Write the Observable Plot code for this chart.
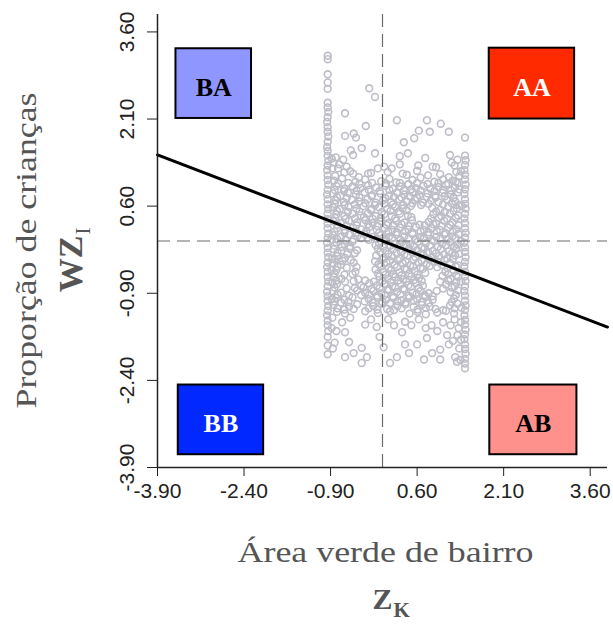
<!DOCTYPE html>
<html><head><meta charset="utf-8">
<script src="https://cdn.jsdelivr.net/npm/d3@7"></script>
<script src="https://cdn.jsdelivr.net/npm/@observablehq/plot@0.6"></script>
<style>html,body{margin:0;padding:0;background:#fff}svg{display:block}</style>
</head><body><div id="chart"></div>
<script>
// ---- data ----
const xTicks = [-3.9, -2.4, -0.9, 0.6, 2.1, 3.6];
const yTicks = [-3.9, -2.4, -0.9, 0.6, 2.1, 3.6];
const xTitulo = "Área verde de bairro";
const yTitulo = "Proporção de crianças";
const regressao = {inclinacao: -0.38, intercepto: 0.0};
const quadrantes = ["BA", "AA", "BB", "AB"];

const colunaEsquerda = [
[-0.95,3.19],[-0.95,3.13],[-0.95,2.87],[-0.95,2.73],[-0.95,2.62],
[-0.95,2.38],[-0.95,2.30],[-0.94,2.22],[-0.95,2.13],[-0.96,2.05],[-0.95,1.96],[-0.95,1.88],[-0.94,1.80],[-0.95,1.71],[-0.96,1.62],[-0.95,1.55],[-0.95,1.47],[-0.94,1.38],[-0.95,1.30],[-0.96,1.22],[-0.95,1.13],[-0.95,1.05],[-0.94,0.97],[-0.95,0.88],[-0.96,0.80],[-0.95,0.72],[-0.95,0.63],[-0.94,0.55],[-0.95,0.47],[-0.96,0.38],[-0.95,0.30],[-0.95,0.22],[-0.94,0.13],[-0.95,0.05],[-0.96,-0.03],[-0.95,-0.12],[-0.95,-0.20],[-0.94,-0.28],[-0.95,-0.37],[-0.96,-0.45],[-0.95,-0.53],[-0.95,-0.62],[-0.94,-0.70],[-0.95,-0.78],[-0.96,-0.87],[-0.95,-0.95],[-0.95,-1.03],[-0.94,-1.12],[-0.95,-1.20],[-0.96,-1.28],[-0.95,-1.37],[-0.95,-1.45],[-0.94,-1.55],[-0.95,-1.65],[-0.95,-1.80],[-0.95,-1.95],
[-0.88,1.42],[-0.87,1.25],[-0.88,0.02],[-0.87,-0.30],[-0.88,-0.50],[-0.87,-0.72],[-0.88,-1.00],[-0.87,-1.32],[-0.88,-1.50],[-0.86,-1.85]
];
const colunaDireita = [
[1.43,1.78],[1.43,1.47],[1.44,1.39],[1.43,1.31],[1.42,1.22],[1.43,1.14],[1.43,1.06],[1.44,0.97],[1.43,0.89],[1.42,0.81],[1.43,0.72],[1.43,0.64],[1.44,0.56],[1.43,0.47],[1.42,0.39],[1.43,0.31],[1.43,0.22],[1.44,0.14],[1.43,0.06],[1.42,-0.03],[1.43,-0.11],[1.43,-0.19],[1.44,-0.28],[1.43,-0.36],[1.42,-0.44],[1.43,-0.53],[1.43,-0.61],[1.44,-0.69],[1.43,-0.78],[1.42,-0.86],[1.43,-0.94],[1.43,-1.03],[1.44,-1.11],[1.43,-1.19],[1.42,-1.28],[1.43,-1.36],[1.43,-1.44],[1.44,-1.53],[1.43,-1.61],[1.42,-1.69],[1.43,-1.78],[1.43,-1.86],[1.44,-1.94],[1.43,-2.03],[1.43,-2.11],[1.43,-2.19],
[1.36,1.20],[1.37,0.60],[1.36,0.00],[1.36,-0.70],[1.37,-1.15],[1.36,-1.40],[1.36,-1.70],[1.35,-2.05]
];
const dispersosAcima = [
[-0.23,2.63],[-0.13,2.48],[-0.65,2.20],[0.25,2.08],[0.77,2.08],[1.01,2.02],[-0.29,1.98],[0.63,1.90],[0.82,1.88],[1.15,1.88],[-0.65,1.81],[-0.50,1.85],[-0.46,1.78],[0.55,1.77],[0.37,1.70],[-0.36,1.60],[-0.55,1.56],[-0.51,1.48],[-0.13,1.51],[0.30,1.46],[0.44,1.51],[1.17,1.48],[-0.81,1.44],[0.74,1.43],[0.62,1.30],[0.87,1.28],[0.16,1.25],[0.30,1.32],[0.03,1.28],[-0.08,1.25],[0.42,1.14],[0.79,1.13],[0.93,1.27],[1.15,1.10],[-0.66,1.18],[-0.51,1.16],[-0.25,1.16],[-0.41,1.10],[-0.77,1.25],
[-0.56,1.20],[-0.20,1.17],[0.09,1.19],[0.35,1.16],[0.60,1.21],[1.00,1.15],[1.28,1.19],
[-0.85,1.35],[-0.75,1.32],[-0.68,1.40],[-0.62,1.28],[-0.82,1.12],[1.30,1.40],[1.25,1.30],[1.33,1.12],[1.20,1.35]
];
const nucleo = [
[-0.84,1.04],[-0.70,1.08],[-0.47,1.02],[-0.30,1.06],[-0.02,1.03],[0.12,1.07],[0.24,1.01],[0.52,1.05],[0.66,1.09],[0.90,1.02],[1.05,1.06],[1.22,1.04],[1.30,1.00],
[-0.80,0.95],[-0.66,0.90],[-0.52,0.94],[-0.38,0.91],[-0.25,0.96],[-0.11,0.92],[0.05,0.95],[0.18,0.90],[0.31,0.94],[0.44,0.97],[0.58,0.91],[0.71,0.95],[0.83,0.90],[0.97,0.93],[1.10,0.97],[1.25,0.92],
[-0.86,0.82],[-0.73,0.78],[-0.60,0.83],[-0.46,0.80],[-0.31,0.84],[-0.18,0.79],[-0.04,0.82],[0.11,0.78],[0.25,0.83],[0.38,0.80],[0.52,0.84],[0.64,0.79],[0.78,0.82],[0.91,0.78],[1.04,0.83],[1.18,0.80],[1.31,0.84],
[-0.81,0.70],[-0.67,0.67],[-0.53,0.71],[-0.40,0.68],[-0.26,0.72],[-0.12,0.66],[0.01,0.70],[0.15,0.67],[0.29,0.72],[0.42,0.68],[0.56,0.71],[0.70,0.66],[0.84,0.70],[0.97,0.67],[1.12,0.71],[1.26,0.68],
[-0.86,0.58],[-0.74,0.55],[-0.59,0.59],[-0.45,0.56],[-0.33,0.60],[-0.19,0.55],[-0.06,0.58],[0.08,0.55],[0.22,0.59],[0.35,0.56],[0.49,0.60],[0.86,0.57],[1.00,0.54],[1.14,0.59],[1.29,0.56],
[-0.80,0.46],[-0.66,0.43],[-0.52,0.47],[-0.38,0.44],[-0.25,0.48],[-0.12,0.43],[0.03,0.46],[0.16,0.43],[0.30,0.47],[0.44,0.44],[0.88,0.46],[1.02,0.43],[1.17,0.47],[1.31,0.44],
[-0.85,0.34],[-0.72,0.31],[-0.58,0.35],[-0.44,0.32],[-0.30,0.36],[-0.17,0.31],[-0.03,0.34],[0.10,0.31],[0.24,0.35],[0.38,0.32],[0.51,0.36],[0.80,0.33],[0.93,0.30],[1.07,0.35],[1.21,0.32],
[-0.79,0.22],[-0.65,0.19],[-0.51,0.23],[-0.37,0.20],[-0.23,0.24],[-0.10,0.19],[0.04,0.22],[0.17,0.19],[0.31,0.23],[0.45,0.20],[0.58,0.24],[0.72,0.19],[0.86,0.22],[1.00,0.19],[1.14,0.23],[1.28,0.20],
[-0.86,0.10],[-0.72,0.07],[-0.58,0.11],[-0.44,0.08],[-0.31,0.12],[-0.17,0.07],[-0.03,0.10],[0.11,0.07],[0.24,0.11],[0.38,0.08],[0.52,0.12],[0.65,0.07],[0.79,0.10],[0.93,0.07],[1.07,0.11],[1.21,0.08],[1.32,0.12],
[-0.80,-0.02],[-0.66,-0.05],[-0.52,-0.01],[-0.06,-0.04],[0.07,0.00],[0.20,-0.05],[0.34,-0.02],[0.48,-0.06],[0.61,-0.01],[0.75,-0.04],[0.89,0.00],[1.03,-0.05],[1.17,-0.02],[1.30,-0.06],
[-0.85,-0.14],[-0.71,-0.17],[-0.57,-0.13],[-0.44,-0.16],[-0.08,-0.13],[0.05,-0.17],[0.19,-0.14],[0.32,-0.18],[0.46,-0.13],[0.60,-0.16],[0.73,-0.12],[0.87,-0.17],[1.01,-0.14],[1.15,-0.18],[1.28,-0.13],
[-0.79,-0.26],[-0.65,-0.29],[-0.11,-0.25],[0.02,-0.29],[0.16,-0.26],[0.30,-0.30],[0.43,-0.25],[0.57,-0.28],[0.71,-0.24],[0.84,-0.29],[0.98,-0.26],[1.12,-0.30],[1.26,-0.25],
[-0.86,-0.38],[-0.72,-0.41],[-0.50,-0.37],[-0.07,-0.40],[0.07,-0.37],[0.21,-0.41],[0.35,-0.38],[0.48,-0.42],[0.62,-0.37],[0.76,-0.40],[0.89,-0.36],[1.03,-0.41],[1.17,-0.38],[1.31,-0.42],
[-0.80,-0.50],[-0.47,-0.53],[-0.12,-0.49],[0.01,-0.53],[0.15,-0.50],[0.29,-0.54],[0.42,-0.49],[0.56,-0.52],[0.70,-0.48],[1.09,-0.53],[1.23,-0.50],
[-0.85,-0.62],[-0.71,-0.65],[-0.42,-0.66],[-0.05,-0.61],[0.09,-0.65],[0.22,-0.62],[0.36,-0.66],[0.50,-0.61],[0.63,-0.64],[1.04,-0.60],[1.18,-0.65],[1.31,-0.62],
[-0.79,-0.74],[-0.37,-0.77],[-0.23,-0.73],[-0.10,-0.77],[0.04,-0.74],[0.17,-0.78],[0.31,-0.73],[0.45,-0.76],[0.58,-0.72],[0.70,-0.77],[1.10,-0.75],[1.25,-0.78],
[-0.86,-0.86],[-0.72,-0.89],[-0.44,-0.85],[-0.30,-0.89],[-0.16,-0.86],[-0.02,-0.90],[0.11,-0.85],[0.25,-0.88],[0.38,-0.84],[0.52,-0.89],[0.66,-0.86],[0.80,-0.90],[0.94,-0.86],[1.18,-0.88],[1.31,-0.85],
[-0.80,-0.98],[-0.66,-1.01],[-0.52,-0.97],[-0.24,-1.00],[-0.09,-0.97],[0.06,-1.01],[0.19,-0.98],[0.33,-1.02],[0.47,-0.97],[0.60,-1.00],[0.74,-0.96],[0.87,-1.01],[1.24,-0.99],
[-0.85,-1.10],[-0.58,-1.13],[-0.44,-1.09],[-0.16,-1.12],[-0.02,-1.08],[0.26,-1.12],[0.40,-1.09],[0.54,-1.13],[0.68,-1.10],[0.82,-1.13],[1.17,-1.11],[1.30,-1.08],
[-0.79,-1.22],[-0.65,-1.25],[-0.30,-1.21],[-0.08,-1.24],[0.13,-1.21],[0.47,-1.25],[0.61,-1.22],[0.75,-1.26],[0.95,-1.23],[1.10,-1.20],[1.24,-1.25]
];
const nucleoIntermedio = [
[-0.77,0.99],[-0.59,1.00],[-0.40,0.98],[-0.18,1.00],[0.06,0.99],[0.30,1.00],[0.45,0.98],[0.60,1.00],[0.78,0.98],[0.97,1.00],[1.14,0.99],[1.27,1.02],
[-0.83,0.88],[-0.67,0.86],[-0.45,0.87],[-0.24,0.88],[-0.05,0.86],[0.12,0.88],[0.37,0.87],[0.50,0.89],[0.66,0.87],[0.90,0.86],[1.05,0.88],[1.19,0.87],[1.33,0.89],
[-0.79,0.76],[-0.62,0.74],[-0.40,0.75],[-0.19,0.77],[0.05,0.74],[0.20,0.76],[0.33,0.75],[0.47,0.77],[0.60,0.74],[0.77,0.76],[0.92,0.75],[1.08,0.77],[1.23,0.74],
[-0.83,0.64],[-0.66,0.62],[-0.48,0.63],[-0.30,0.65],[-0.13,0.62],[0.03,0.64],[0.18,0.63],[0.36,0.62],[0.52,0.65],[0.67,0.62],[0.80,0.64],[1.05,0.63],[1.20,0.65],[1.33,0.62],
[-0.79,0.52],[-0.60,0.50],[-0.40,0.51],[-0.20,0.53],[-0.01,0.50],[0.14,0.52],[0.28,0.51],[0.42,0.53],[0.93,0.51],[1.08,0.50],[1.23,0.52],
[-0.82,0.40],[-0.64,0.38],[-0.48,0.39],[-0.32,0.41],[-0.17,0.38],[-0.03,0.40],[0.22,0.39],[0.50,0.41],[0.84,0.39],[0.98,0.40],[1.12,0.38],[1.27,0.40],
[-0.78,0.28],[-0.62,0.26],[-0.45,0.27],[-0.25,0.29],[-0.09,0.26],[0.07,0.28],[0.18,0.27],[0.33,0.29],[0.45,0.26],[0.64,0.28],[0.73,0.27],[0.88,0.29],[1.02,0.26],[1.17,0.28],[1.32,0.27],
[-0.83,0.16],[-0.66,0.14],[-0.45,0.15],[-0.28,0.17],[-0.06,0.14],[0.10,0.16],[0.25,0.15],[0.39,0.17],[0.52,0.14],[0.66,0.16],[0.80,0.15],[0.94,0.17],[1.09,0.14],[1.22,0.16],
[-0.79,0.04],[-0.64,0.02],[-0.50,0.03],[-0.37,0.05],[-0.24,0.02],[-0.10,0.04],[0.04,0.03],[0.17,0.05],[0.31,0.02],[0.45,0.04],[0.58,0.03],[0.72,0.05],[0.86,0.02],[1.00,0.04],[1.14,0.03],[1.27,0.05],
[-0.83,-0.08],[-0.70,-0.10],[-0.56,-0.09],[-0.12,-0.07],[0.01,-0.10],[0.14,-0.08],[0.27,-0.10],[0.41,-0.07],[0.54,-0.09],[0.68,-0.11],[0.82,-0.08],[0.96,-0.10],[1.10,-0.07],[1.24,-0.09],
[-0.78,-0.20],[-0.61,-0.22],[-0.48,-0.21],[-0.04,-0.19],[0.10,-0.22],[0.24,-0.20],[0.38,-0.23],[0.52,-0.20],[0.66,-0.22],[0.79,-0.19],[0.93,-0.21],[1.07,-0.23],[1.21,-0.20],[1.33,-0.22],
[-0.83,-0.32],[-0.69,-0.34],[-0.55,-0.33],[-0.13,-0.35],[0.00,-0.32],[0.13,-0.34],[0.27,-0.33],[0.40,-0.35],[0.54,-0.32],[0.68,-0.34],[0.81,-0.32],[0.95,-0.35],[1.08,-0.33],[1.22,-0.31],
[-0.78,-0.44],[-0.62,-0.46],[-0.45,-0.45],[-0.03,-0.44],[0.11,-0.46],[0.25,-0.45],[0.39,-0.47],[0.53,-0.44],[0.66,-0.46],[0.82,-0.43],[0.95,-0.45],[1.13,-0.47],[1.27,-0.44],
[-0.83,-0.56],[-0.66,-0.58],[-0.52,-0.57],[-0.08,-0.56],[0.05,-0.58],[0.19,-0.57],[0.33,-0.59],[0.46,-0.56],[0.60,-0.58],[0.74,-0.55],[1.14,-0.57],[1.28,-0.59],
[-0.80,-0.68],[-0.65,-0.70],[-0.50,-0.69],[-0.30,-0.68],[-0.15,-0.70],[0.00,-0.69],[0.14,-0.71],[0.27,-0.68],[0.41,-0.70],[0.55,-0.67],[0.68,-0.69],[1.00,-0.70],[1.14,-0.68],[1.28,-0.71],
[-0.83,-0.80],[-0.62,-0.82],[-0.48,-0.81],[-0.33,-0.80],[-0.19,-0.82],[-0.05,-0.81],[0.09,-0.83],[0.22,-0.80],[0.36,-0.82],[0.49,-0.79],[0.63,-0.81],[1.05,-0.82],[1.20,-0.80],
[-0.78,-0.92],[-0.58,-0.94],[-0.37,-0.93],[-0.23,-0.92],[-0.09,-0.94],[0.04,-0.93],[0.18,-0.95],[0.31,-0.92],[0.45,-0.94],[0.59,-0.91],[0.73,-0.93],[0.87,-0.95],[1.27,-0.93],
[-0.83,-1.04],[-0.72,-1.06],[-0.59,-1.05],[-0.31,-1.04],[-0.17,-1.06],[0.00,-1.05],[0.13,-1.07],[0.26,-1.04],[0.40,-1.06],[0.54,-1.03],[0.68,-1.05],[0.80,-1.07],[1.20,-1.05],
[-0.78,-1.16],[-0.66,-1.18],[-0.50,-1.17],[-0.24,-1.16],[-0.09,-1.18],[0.08,-1.17],[0.20,-1.19],[0.33,-1.16],[0.61,-1.18],[0.75,-1.15],[0.92,-1.17],[1.05,-1.19],[1.25,-1.16]
];
const dispersosAbaixo = [
[-0.56,-1.32],[-0.30,-1.44],[-0.10,-1.48],[0.39,-1.39],[0.63,-1.35],[-0.65,-1.57],[-0.05,-1.65],[0.34,-1.57],[0.77,-1.67],[-0.58,-1.74],[0.60,-1.78],[0.39,-1.78],[-0.36,-1.84],[-0.50,-1.93],[-0.65,-2.00],[-0.27,-2.00],[0.02,-1.83],[0.46,-1.93],[0.25,-2.00],[0.13,-2.10],[-0.36,-2.10],[0.72,-2.04],[0.86,-1.93],[1.00,-1.87],[1.00,-2.04],[1.15,-1.78],[1.26,-2.00],[1.29,-2.08],
[1.25,-1.35],[1.32,-1.50],[1.18,-1.45],[1.30,-1.62],[1.22,-1.72],[1.33,-1.85],[1.05,-1.40],[0.95,-1.55],[0.85,-1.45],[1.12,-1.62],[0.10,-1.35],[0.20,-1.45],[-0.20,-1.35],[-0.70,-1.40],[-0.80,-1.55],[-0.83,-1.75],[0.50,-1.45],[0.75,-1.50]
];

// ---- layout / style (not data) ----
const dominio = [-3.9, 3.9];
const caixas = [
  {x1: -3.58, x2: -2.27, y1: 2.11, y2: 3.31, fundo: "#9096ff", tinta: "#000000"},
  {x1: 1.85, x2: 3.33, y1: 2.10, y2: 3.32, fundo: "#ff2a00", tinta: "#ffffff"},
  {x1: -3.54, x2: -2.06, y1: -3.68, y2: -2.48, fundo: "#0028ff", tinta: "#ffffff"},
  {x1: 1.86, x2: 3.37, y1: -3.68, y2: -2.48, fundo: "#ff918c", tinta: "#000000"}
].map((c, i) => ({...c, rotulo: quadrantes[i]}));

const pontos = [...colunaEsquerda, ...colunaDireita, ...dispersosAcima, ...nucleo, ...nucleoIntermedio, ...dispersosAbaixo]
  .map(([zk, wz]) => ({zk, wz}));
const linhaReg = dominio.map(x => ({x, y: regressao.intercepto + regressao.inclinacao * x}));
const fmt = d => d.toFixed(2);
const cinza = "#555555";
const serif = "Liberation Serif";

const chart = Plot.plot({
  width: 613, height: 624,
  marginLeft: 157, marginRight: 6, marginTop: 14, marginBottom: 157,
  x: {domain: dominio},
  y: {domain: dominio},
  color: {type: "identity"},
  style: {fontFamily: "Liberation Sans", fontSize: "21px", background: "white", color: "#222"},
  marks: [
    Plot.dot(pontos, {x: "zk", y: "wz", r: 3.4, stroke: "#bdbdc7", strokeWidth: 1.6, fill: "none"}),
    Plot.ruleX([0], {stroke: "#6a6a6a", strokeWidth: 1.2, strokeDasharray: "13,7"}),
    Plot.ruleY([0], {stroke: "#6a6a6a", strokeWidth: 1.2, strokeDasharray: "13,7"}),
    Plot.line(linhaReg, {x: "x", y: "y", stroke: "#000", strokeWidth: 3}),
    Plot.rect(caixas, {x1: "x1", x2: "x2", y1: "y1", y2: "y2", fill: "fundo", stroke: "#000", strokeWidth: 2}),
    Plot.text(caixas, {x: d => (d.x1 + d.x2) / 2, y: d => (d.y1 + d.y2) / 2, text: "rotulo", fill: "tinta",
      fontFamily: serif, fontWeight: "bold", fontSize: 26, lineAnchor: "bottom", dy: 12}),
    Plot.ruleX([dominio[0]], {stroke: "#222", strokeWidth: 1.5}),
    Plot.ruleY([dominio[0]], {stroke: "#222", strokeWidth: 1.5}),
    Plot.axisX({ticks: xTicks, tickFormat: fmt, tickSize: 9, tickPadding: 7, fontSize: 21, label: null, color: "#222"}),
    Plot.axisY({ticks: yTicks, tickFormat: () => "", tickSize: 10, label: null, color: "#222"}),
    Plot.text(yTicks, {y: d => d, text: fmt, frameAnchor: "left", dx: -24, rotate: -90,
      textAnchor: "middle", lineAnchor: "bottom", fontSize: 21, fill: "#222"}),
    // axis titles
    Plot.text([xTitulo], {frameAnchor: "bottom", text: d => d, dx: 3, dy: 94, lineAnchor: "bottom", textAnchor: "middle",
      fontFamily: serif, fontSize: 30, fill: cinza}),
    Plot.text(["Z"], {frameAnchor: "bottom", text: d => d, dx: 10, dy: 141, lineAnchor: "bottom", textAnchor: "end",
      fontFamily: serif, fontWeight: "bold", fontSize: 30, fill: cinza}),
    Plot.text(["K"], {frameAnchor: "bottom", text: d => d, dx: 11, dy: 149, lineAnchor: "bottom", textAnchor: "start",
      fontFamily: serif, fontWeight: "bold", fontSize: 21, fill: cinza}),
    Plot.text([yTitulo], {frameAnchor: "left", text: d => d, dx: -121.5, dy: 9.5, rotate: -90, lineAnchor: "bottom", textAnchor: "middle",
      fontFamily: serif, fontSize: 30, fill: cinza}),
    Plot.text(["WZ"], {frameAnchor: "left", text: d => d, dx: -76, dy: -5.5, rotate: -90, lineAnchor: "bottom", textAnchor: "end",
      fontFamily: serif, fontWeight: "bold", fontSize: 34, fill: cinza}),
    Plot.text(["I"], {frameAnchor: "left", text: d => d, dx: -68, dy: -6.5, rotate: -90, lineAnchor: "bottom", textAnchor: "start",
      fontFamily: serif, fontSize: 21, fill: cinza})
  ]
});
document.getElementById("chart").appendChild(chart);
const esticar = (conteudo, comprimento) =>
  d3.select(chart).selectAll("text").filter(function () { return this.textContent === conteudo; })
    .attr("textLength", comprimento).attr("lengthAdjust", "spacingAndGlyphs");
esticar(xTitulo, 296);
esticar(yTitulo, 316);
</script>
</body></html>
